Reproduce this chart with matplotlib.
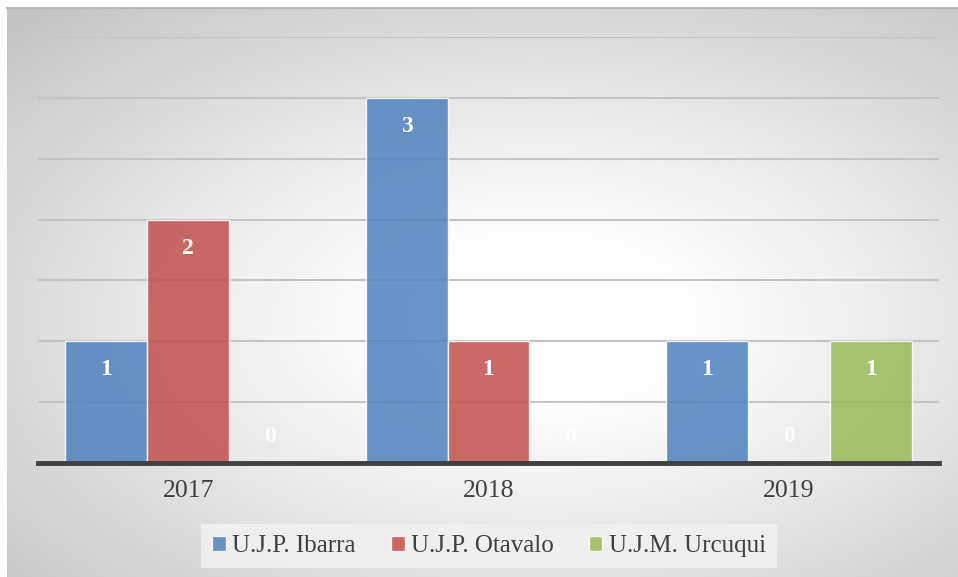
import numpy as np
import matplotlib
matplotlib.use("Agg")
import matplotlib.pyplot as plt
from matplotlib.patches import Patch

years = ["2017", "2018", "2019"]
series_names = ["U.J.P. Ibarra", "U.J.P. Otavalo", "U.J.M. Urcuqui"]
ibarra = [1, 3, 1]
otavalo = [2, 1, 0]
urcuqui = [0, 0, 1]
series_values = [ibarra, otavalo, urcuqui]
colors = ["#4F81BD", "#C0504D", "#9BBB59"]

W, H = 958, 577
fig = plt.figure(figsize=(W / 100, H / 100), dpi=100)
fig.patch.set_facecolor("white")
serif = ["Liberation Serif", "DejaVu Serif"]

# background radial gradient
bg = fig.add_axes([7 / W, 0, 1 - 7 / W, 1 - 8 / H], zorder=-10)
nx, ny = 480, 300
xx, yy = np.meshgrid(np.linspace(-1, 1, nx), np.linspace(-1, 1, ny))
cx, cy = 0.12, -0.1
r = np.sqrt(((xx - cx) / 1.0) ** 2 + ((yy - cy) / 0.95) ** 2)
r0 = 0.28
t = np.clip((r - r0) / (1.55 - r0), 0, 1)
v = 1.0 - (1.0 - 0.77) * t ** 1.1
img = np.dstack([v, v, v])
bg.imshow(img, aspect="auto", extent=[0, 1, 0, 1], interpolation="bilinear", origin="lower")
bg.set_xlim(0, 1)
bg.set_ylim(0, 1)
bg.axis("off")
bg.plot([0, 1], [1, 1], color="#b8b8b8", lw=1.5, transform=bg.transAxes, clip_on=False)

ax = fig.add_axes([38 / W, (H - 463) / H, 901 / W, 426 / H])
ax.set_facecolor("none")
x = np.arange(len(years))
bw = 0.273
for i, (name, vals, c) in enumerate(zip(series_names, series_values, colors)):
    pos = x + (i - 1) * bw
    ax.bar(pos, vals, width=bw, color=c, alpha=0.85, edgecolor=(1, 1, 1, 0.5),
           linewidth=1, zorder=3, label=name)
    for p, val in zip(pos, vals):
        if val > 0:
            ax.text(p, val - 0.235, str(val), ha="center", va="center", color="white",
                    fontsize=17, fontweight="bold", family=serif, zorder=4)
        else:
            ax.text(p, val + 0.215, str(val), ha="center", va="center", color="white",
                    fontsize=17, fontweight="bold", family=serif, zorder=4)

ax.set_xlim(-0.5, 2.5)
ax.set_ylim(0, 3.5)
ax.set_yticks(np.arange(0.5, 3.51, 0.5))
ax.yaxis.grid(True, color="#c4c4c4", lw=1.5, zorder=1)
ax.tick_params(axis="y", left=False, labelleft=False)
ax.set_xticks(x)
ax.set_xticklabels(years, family=serif, fontsize=18.5, color="#404040")
ax.tick_params(axis="x", bottom=False, pad=8.5)
for s in ["top", "right", "left"]:
    ax.spines[s].set_visible(False)
ax.spines["bottom"].set_color("#404040")
ax.spines["bottom"].set_linewidth(3.5)
ax.spines["bottom"].set_zorder(5)

handles = [Patch(facecolor=c, alpha=0.85, edgecolor=(1, 1, 1, 0.5)) for c in colors]
leg = fig.legend(handles, series_names, loc="center", bbox_to_anchor=(489 / W, 1 - 546 / H),
                 ncol=3, frameon=True, prop={"family": serif, "size": 18},
                 handlelength=0.55, handleheight=0.55, handletextpad=0.25,
                 columnspacing=1.4, borderpad=0.45, borderaxespad=0, fancybox=False)
leg.get_frame().set_facecolor("#f0f0f0")
leg.get_frame().set_edgecolor("none")
leg.get_frame().set_alpha(0.9)
for tx in leg.get_texts():
    tx.set_color("#404040")

fig.savefig("out.png", dpi=100)
